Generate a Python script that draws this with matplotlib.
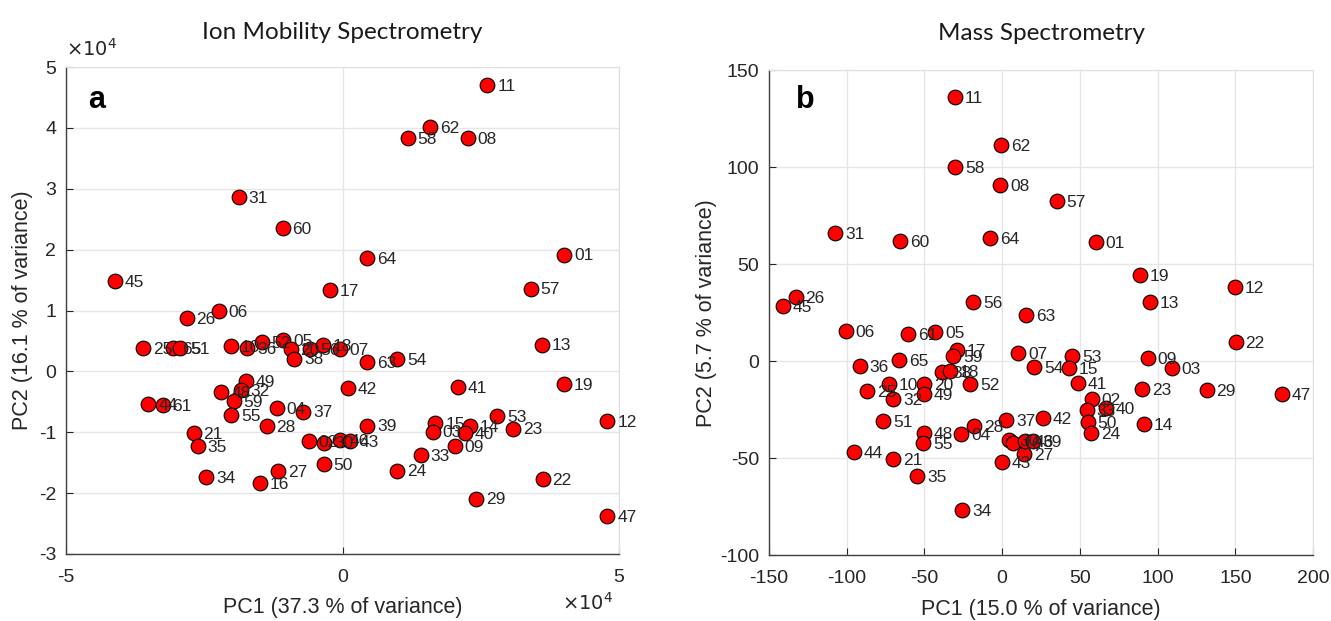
import matplotlib.pyplot as plt
import numpy as np

plt.rcParams['font.family'] = ['Liberation Sans', 'DejaVu Sans']
plt.rcParams['axes.unicode_minus'] = False

# --- Ion Mobility Spectrometry scores (PC1, PC2 in units of 1e4) ---
ims_ids = ['11', '62', '58', '08', '31', '60', '01', '64', '45', '17', '57', '06', '26',
           '25', '65', '51', '10', '36', '52', '05', '20', '38', '56', '18', '07', '63',
           '54', '13', '49', '48', '32', '59', '55', '04', '37', '28', '21', '35', '34',
           '16', '27', '50', '42', '39', '02', '30', '46', '43', '24', '33', '15', '03',
           '14', '40', '09', '41', '53', '23', '19', '12', '22', '29', '47', '44', '61']
ims_pc1 = [2.62, 1.59, 1.18, 2.26, -1.88, -1.08, 4.01, 0.45, -4.12, -0.22, 3.40, -2.24, -2.82,
           -3.60, -3.07, -2.93, -2.01, -1.72, -1.46, -1.07, -0.94, -0.87, -0.58, -0.36, -0.05, 0.45,
           0.99, 3.60, -1.75, -2.19, -1.84, -1.97, -2.01, -1.19, -0.71, -1.37, -2.69, -2.62, -2.46,
           -1.50, -1.16, -0.34, 0.09, 0.45, -0.61, -0.33, -0.05, 0.14, 0.99, 1.41, 1.68, 1.63,
           2.30, 2.21, 2.03, 2.08, 2.80, 3.09, 4.01, 4.79, 3.62, 2.42, 4.79, -3.51, -3.25]
ims_pc2 = [4.70, 4.01, 3.84, 3.83, 2.87, 2.35, 1.92, 1.86, 1.48, 1.33, 1.36, 0.99, 0.87,
           0.39, 0.38, 0.39, 0.41, 0.39, 0.48, 0.51, 0.36, 0.21, 0.36, 0.43, 0.36, 0.15,
           0.20, 0.44, -0.16, -0.34, -0.30, -0.49, -0.72, -0.61, -0.66, -0.90, -1.02, -1.23, -1.74,
           -1.84, -1.64, -1.53, -0.28, -0.89, -1.15, -1.17, -1.13, -1.15, -1.63, -1.38, -0.85, -0.99,
           -0.90, -1.02, -1.23, -0.26, -0.74, -0.94, -0.21, -0.82, -1.77, -2.09, -2.38, -0.53, -0.56]

# --- Mass Spectrometry scores ---
ms_ids = ['11', '62', '58', '08', '57', '31', '60', '64', '01', '19', '12', '13', '22',
          '09', '03', '23', '29', '47', '14', '26', '45', '56', '06', '61', '05', '17',
          '59', '36', '65', '38', '18', '20', '10', '52', '25', '32', '49', '51', '48',
          '55', '04', '28', '37', '44', '21', '35', '43', '07', '54', '53', '15', '41',
          '02', '33', '40', '50', '24', '42', '27', '63', '34', '30', '16', '46', '39']
ms_pc1 = [-30.2, -0.6, -30.2, -1.3, 35.3, -107.3, -65.5, -7.7, 60.4, 88.6, 149.6, 95.1, 150.3,
          93.8, 109.2, 89.9, 131.7, 179.8, 91.2, -132.9, -141.3, -18.6, -100.8, -60.4, -43.0, -28.9,
          -31.5, -91.8, -66.2, -38.5, -33.4, -50.1, -72.6, -20.6, -86.7, -70.0, -50.1, -76.4, -50.1,
          -50.7, -26.3, -18.0, 2.6, -95.1, -70.0, -54.6, 0.0, 10.3, 20.6, 45.0, 43.0, 48.8,
          57.8, 54.6, 66.8, 55.2, 57.2, 26.3, 14.1, 15.4, -25.7, 4.5, 7.1, 14.8, 19.9]
ms_pc2 = [136.1, 111.3, 100.0, 90.7, 82.5, 66.0, 61.9, 63.4, 61.3, 44.3, 38.1, 30.4, 9.8,
          1.5, -3.6, -14.4, -14.9, -17.0, -32.5, 33.0, 28.4, 30.4, 15.5, 13.9, 14.9, 5.7,
          2.6, -2.6, 0.5, -5.7, -5.2, -11.9, -11.9, -11.9, -15.5, -19.6, -17.0, -30.9, -37.1,
          -42.3, -37.6, -33.5, -30.4, -46.9, -50.5, -59.3, -52.1, 4.1, -3.1, 2.6, -3.6, -11.3,
          -19.6, -25.3, -24.2, -31.4, -37.1, -29.4, -47.9, 23.7, -76.8, -40.7, -42.3, -41.2, -41.2]


def score_panel(ax, ids, pc1, pc2, xlim, ylim, xticks, yticks):
    ax.scatter(pc1, pc2, s=112, c='#ff0000', edgecolors='black', linewidths=0.8, zorder=3)
    for lbl, x, y in zip(ids, pc1, pc2):
        ax.annotate(lbl, (x, y), xytext=(7, -1), textcoords='offset points',
                    va='center', ha='left', fontsize=12.5, color='#262626', zorder=4)
    ax.set_xlim(xlim)
    ax.set_ylim(ylim)
    ax.set_xticks(xticks)
    ax.set_yticks(yticks)
    ax.grid(True, color='#e6e6e6', linewidth=1.0, zorder=0)
    ax.set_axisbelow(True)
    ax.tick_params(direction='in', length=5, width=0.8, labelsize=14, colors='#262626')
    ax.tick_params(axis='x', pad=11)
    ax.tick_params(axis='y', pad=7)
    for side in ['left', 'bottom']:
        ax.spines[side].set_color('#404040')
        ax.spines[side].set_linewidth(1.0)
    for side in ['top', 'right']:
        ax.spines[side].set_color('#e0e0e0')


fig = plt.figure(figsize=(13.31, 6.21), dpi=100)
ax1 = fig.add_axes([0.0496, 0.108, 0.4155, 0.784])
ax2 = fig.add_axes([0.5778, 0.106, 0.4087, 0.781])

score_panel(ax1, ims_ids, ims_pc1, ims_pc2, (-5, 5), (-3, 5), [-5, 0, 5], np.arange(-3, 6))
score_panel(ax2, ms_ids, ms_pc1, ms_pc2, (-150, 200), (-100, 150),
            np.arange(-150, 201, 50), np.arange(-100, 151, 50))

title_font = dict(family=['Lato', 'DejaVu Sans'], fontsize=17.5, color='#1a1a1a')
ax1.set_title('Ion Mobility Spectrometry', pad=20, **title_font)
ax2.set_title('Mass Spectrometry', pad=22, **title_font)

ax1.set_xlabel('PC1 (37.3 % of variance)', fontsize=15.5, color='#262626', labelpad=8)
ax1.set_ylabel('PC2 (16.1 % of variance)', fontsize=15.5, color='#262626', labelpad=4)
ax2.set_xlabel('PC1 (15.0 % of variance)', fontsize=15.5, color='#262626', labelpad=8)
ax2.set_ylabel('PC2 (5.7 % of variance)', fontsize=15.5, color='#262626', labelpad=2)

# MATLAB style exponent labels
ax1.text(0.0, 1.015, r'$\times10^4$', transform=ax1.transAxes, ha='left', va='bottom',
         fontsize=14, color='#262626')
ax1.text(0.99, -0.10, r'$\times10^4$', transform=ax1.transAxes, ha='right', va='center',
         fontsize=14, color='#262626')

ax1.text(0.04, 0.932, 'a', transform=ax1.transAxes, fontsize=22, fontweight='bold', va='center')
ax2.text(0.05, 0.938, 'b', transform=ax2.transAxes, fontsize=22, fontweight='bold', va='center')

plt.savefig('out.png', dpi=100)
